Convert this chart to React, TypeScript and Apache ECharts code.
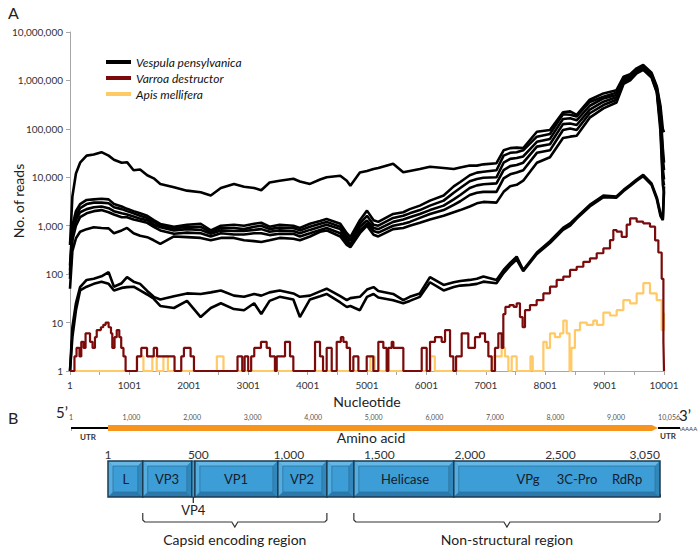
import { useEffect, useRef } from 'react';
import * as echarts from 'echarts';

// ---------- Panel A data ----------
const NT = [
  0, 40, 100, 170, 280, 400, 530, 650, 740, 870,
  960, 1070, 1180, 1300, 1410, 1520, 1750, 1970, 2200, 2370,
  2540, 2760, 2930, 3100, 3220, 3360, 3530, 3760, 3870, 4040,
  4210, 4320, 4550, 4660, 4720, 4880, 5000, 5110, 5190, 5440,
  5610, 5720, 5890, 6060, 6290, 6460, 6570, 6730, 6850, 6960,
  7180, 7300, 7410, 7520, 7630, 7860, 8080, 8300, 8420, 8530,
  8750, 8980, 9200, 9320, 9430, 9540, 9650, 9790, 9880, 9940,
  9980, 10000,
];

const V_TOP = [
  400, 4000, 12000, 20000, 28000, 29500, 33000, 28000, 23000, 20000,
  20500, 14000, 14500, 11000, 9500, 7300, 6200, 5300, 4900, 4200,
  6000, 7300, 6400, 6000, 5400, 7800, 8500, 9300, 8200, 7300,
  9000, 10000, 10800, 8500, 6700, 12500, 13500, 14800, 15500, 19000,
  12700, 13500, 14800, 16500, 15500, 14800, 16000, 17500, 17400, 18500,
  19500, 36000, 40000, 41000, 40000, 87000, 95000, 220000, 230000, 195000,
  400000, 540000, 630000, 1200000, 1350000, 1780000, 2100000, 1450000, 750000, 300000,
  100000, 85000,
];
const V_M1 = [
  150, 1000, 2000, 2800, 3400, 3500, 3600, 3500, 2800, 2500,
  2230, 2000, 1800, 1600, 1300, 1090, 950, 1050, 1100, 800,
  1000, 1050, 1000, 1100, 1150, 950, 1050, 1000, 900, 1100,
  1250, 1380, 1100, 700, 580, 1300, 2050, 1300, 1200, 1750,
  1900, 2200, 2600, 3300, 4200, 6500, 8000, 11000, 12500, 13000,
  14000, 28000, 32000, 33000, 36000, 69000, 78000, 200000, 195000, 180000,
  360000, 460000, 560000, 1100000, 1250000, 1700000, 2000000, 1350000, 700000, 250000,
  40000, 20000,
];
const V_M2 = [
  120, 800, 1600, 2300, 2800, 3000, 3000, 2900, 2400, 2200,
  2000, 1800, 1600, 1450, 1200, 1000, 880, 950, 950, 740,
  900, 900, 850, 950, 1000, 850, 920, 900, 800, 950,
  1100, 1200, 950, 600, 500, 1100, 1600, 1050, 1000, 1450,
  1600, 1800, 2100, 2600, 3300, 4800, 6000, 8300, 9200, 9800,
  10000, 20000, 24000, 25000, 27000, 54000, 62000, 160000, 165000, 150000,
  300000, 425000, 500000, 1000000, 1150000, 1600000, 1900000, 1300000, 650000, 200000,
  25000, 14000,
];
const V_M3 = [
  100, 600, 1300, 1900, 2200, 2400, 2500, 2300, 2000, 1800,
  1700, 1550, 1400, 1300, 1050, 930, 800, 850, 820, 680,
  800, 780, 780, 820, 850, 750, 800, 780, 700, 820,
  950, 1050, 850, 520, 420, 950, 1280, 900, 850, 1200,
  1350, 1500, 1750, 2100, 2600, 3500, 4300, 6000, 6800, 7200,
  7500, 14000, 17000, 18000, 20000, 43000, 48000, 125000, 129000, 120000,
  250000, 363000, 450000, 950000, 1100000, 1550000, 1800000, 1250000, 620000, 160000,
  15000, 9000,
];
const V_M4 = [
  80, 500, 1000, 1500, 1800, 2000, 2100, 1900, 1700, 1500,
  1500, 1350, 1250, 1150, 950, 800, 680, 720, 700, 600,
  700, 660, 660, 700, 700, 640, 680, 680, 600, 700,
  820, 900, 700, 450, 380, 800, 1100, 780, 720, 1000,
  1100, 1200, 1450, 1750, 2100, 2700, 3200, 4300, 4800, 5000,
  5000, 9500, 11500, 12500, 14000, 32000, 36000, 95000, 102000, 95000,
  210000, 310000, 400000, 900000, 1050000, 1450000, 1700000, 1200000, 580000, 120000,
  10000, 6800,
];
const V_M5 = [
  50, 300, 550, 750, 850, 930, 900, 880, 700, 800,
  900, 700, 620, 580, 500, 420, 600, 580, 560, 500,
  560, 560, 500, 480, 460, 500, 560, 540, 500, 600,
  750, 800, 600, 400, 360, 700, 1000, 650, 600, 850,
  900, 1000, 1150, 1350, 1600, 1900, 2100, 2500, 2900, 3100,
  3000, 5000, 6500, 7000, 8500, 20000, 26000, 65000, 69000, 72000,
  170000, 264000, 350000, 850000, 1000000, 1400000, 1650000, 1150000, 560000, 90000,
  7000, 5000,
];
const V_L1 = [
  1, 8, 25, 54, 76, 80, 90, 110, 55, 65,
  87, 70, 63, 45, 34, 30, 35, 40, 39, 42,
  46, 36, 34, 39, 36, 42, 46, 40, 34, 36,
  44, 50, 35, 29, 32, 34, 48, 54, 45, 39,
  29, 34, 40, 87, 60, 68, 72, 76, 80, 89,
  76, 122, 170, 230, 122, 280, 480, 900, 1120, 1500,
  2700, 4200, 4000, 5500, 7000, 9000, 11200, 7500, 3800, 1800,
  1400, 6500,
];
const V_L2 = [
  1, 5, 18, 46, 55, 63, 70, 63, 46, 52,
  54, 55, 46, 38, 31, 22, 20, 28, 13, 20,
  25, 19, 18, 25, 15, 28, 34, 30, 13, 30,
  35, 39, 26, 21, 22, 18, 34, 39, 33, 29,
  25, 28, 34, 68, 46, 54, 58, 60, 63, 70,
  65, 105, 150, 200, 115, 260, 440, 820, 1000, 1400,
  2500, 3900, 3800, 5200, 6600, 8500, 10500, 7000, 3500, 1600,
  1300, 5000,
];

const RED = [
  [0, 1], [75, 2], [110, 3], [160, 2], [190, 4], [230, 3], [262, 6], [337, 4], [380, 3], [420, 5],
  [450, 7], [520, 8], [560, 9], [600, 10], [650, 8], [690, 6], [712, 3], [750, 5], [787, 7], [830, 5],
  [862, 3], [900, 2], [936, 1], [1128, 2], [1200, 3], [1297, 2], [1410, 3], [1466, 2], [1760, 1], [1873, 2],
  [1918, 3], [2030, 2], [2087, 1], [2820, 2], [2900, 1], [2940, 2], [3000, 1], [3050, 2], [3102, 3], [3215, 4],
  [3311, 3], [3367, 2], [3450, 1], [3480, 2], [3620, 4], [3704, 2], [3760, 1], [4125, 4], [4209, 2], [4260, 1],
  [4321, 3], [4406, 1], [4490, 4], [4560, 5], [4602, 4], [4658, 3], [4714, 1], [4770, 2], [4855, 1], [4995, 2],
  [5107, 1], [5191, 4], [5275, 3], [5331, 1], [5360, 3], [5416, 4], [5444, 3], [5612, 1], [5921, 3], [6005, 1],
  [6061, 4], [6145, 5], [6257, 4], [6314, 7], [6398, 2], [6454, 1], [6500, 2], [6594, 6], [6706, 3], [6818, 5],
  [6902, 6], [6987, 4], [7043, 2], [7099, 1], [7155, 3], [7211, 6], [7267, 3], [7295, 15], [7330, 21], [7400, 23],
  [7470, 21], [7520, 25], [7575, 13], [7620, 8], [7660, 18], [7744, 23], [7856, 29], [7969, 40], [8081, 55], [8193, 76],
  [8305, 89], [8418, 122], [8530, 142], [8642, 180], [8754, 212], [8867, 270], [8979, 340], [9091, 505], [9147, 815], [9203, 755],
  [9288, 590], [9372, 1050], [9430, 1420], [9540, 1210], [9650, 1120], [9764, 955], [9850, 500], [9905, 280], [9961, 80], [9990, 4],
  [10000, 1],
];

const YELLOW = [
  [0, 1], [1124, 2], [1236, 1], [1386, 2], [1460, 1], [1573, 2], [1648, 1], [2472, 2], [2584, 1], [5056, 2],
  [5131, 1], [6067, 2], [6142, 1], [7116, 2], [7267, 3], [7323, 2], [7380, 1], [7436, 2], [7520, 1], [7752, 2],
  [7790, 1], [7969, 4], [8025, 3], [8081, 6], [8165, 5], [8250, 6], [8305, 11], [8362, 6], [8410, 1], [8440, 3],
  [8500, 7], [8586, 10], [8700, 9], [8810, 11], [8870, 9], [8979, 16], [9091, 14], [9203, 18], [9316, 29], [9428, 25],
  [9540, 40], [9652, 65], [9764, 40], [9877, 29], [9961, 7], [10000, 16],
];

const SERIES_NAMES = ['Vespula pensylvanica', 'Varroa destructor', 'Apis mellifera'];

// ---------- Panel B data ----------
const GENOME_TICKS = [1, 1000, 2000, 3000, 4000, 5000, 6000, 7000, 8000, 9000, 10056];
const GENOME_PARTS = [1, 612, 9692, 10056]; // 5'UTR start, ORF start, ORF end, 3' end
const AA_TICKS = [1, 500, 1000, 1500, 2000, 2500, 3050];
const DOMAIN_START = [1, 193, 464, 481, 939, 1210, 1359, 1911];
const DOMAIN_END = [193, 464, 481, 939, 1210, 1359, 1911, 3050];
const LABEL_AA = [100, 327, 708, 1073, 1642, 2321, 2592, 2868];
const LABEL_TEXT = ['L', 'VP3', 'VP1', 'VP2', 'Helicase', 'VPg', '3C-Pro', 'RdRp'];
const CALLOUT_AA = [472];
const CALLOUT_TEXT = ['VP4'];
const REGION_START = [193, 1359];
const REGION_END = [1210, 3050];
const REGION_TEXT = ['Capsid encoding region', 'Non-structural region'];

const FONT = 'Lato';
const fmt = (v: number) => String(Math.round(v)).replace(/\B(?=(\d{3})+(?!\d))/g, ',');

export default function App() {
  const ref = useRef<HTMLDivElement>(null);
  useEffect(() => {
    const chart = echarts.init(ref.current!, null, { renderer: 'svg' });

    const blackSets = [V_TOP, V_M1, V_M2, V_M3, V_M4, V_M5, V_L1, V_L2];
    const blackSeries = blackSets.map((arr) => ({
      type: 'line',
      name: SERIES_NAMES[0],
      xAxisIndex: 0,
      yAxisIndex: 0,
      data: NT.map((n, i) => [n, arr[i]]),
      showSymbol: false,
      symbol: 'none',
      lineStyle: { color: '#000', width: 2.6 },
      itemStyle: { color: '#000' },
      clip: false,
    }));

    const option: any = {
      animation: false,
      backgroundColor: '#fff',
      textStyle: { fontFamily: FONT },
      legend: {
        left: 106,
        top: 55,
        orient: 'vertical',
        icon: 'rect',
        itemWidth: 25,
        itemHeight: 4,
        itemGap: 2,
        padding: 0,
        data: SERIES_NAMES,
        textStyle: { fontStyle: 'italic', fontSize: 12, fontFamily: FONT, color: '#111', lineHeight: 14 },
      },
      grid: [
        { left: 70, right: 36, top: 32, bottom: 176, outerBoundsMode: 'none', containLabel: false },
        { left: 71, width: 609, top: 425, height: 6, outerBoundsMode: 'none', containLabel: false },
        { left: 108, width: 552, top: 461, height: 36, outerBoundsMode: 'none', containLabel: false },
      ],
      xAxis: [
        {
          type: 'value',
          gridIndex: 0,
          min: 0,
          max: 10000,
          interval: 500,
          axisLine: { show: true, lineStyle: { color: '#A6A6A6', width: 1 } },
          axisTick: { show: true, length: 4, lineStyle: { color: '#A6A6A6' } },
          axisLabel: {
            interval: 0,
            formatter: (v: number) => (v % 1000 === 0 ? String(v + 1) : ''),
            fontSize: 10,
            color: '#333',
            margin: 9,
            fontFamily: FONT,
            showMaxLabel: true,
          },
          splitLine: { show: false },
          name: 'Nucleotide',
          nameLocation: 'middle',
          nameGap: 13,
          nameTextStyle: { fontSize: 14, color: '#222', fontFamily: FONT },
        },
        {
          type: 'value',
          gridIndex: 1,
          min: 1,
          max: 10056,
          position: 'top',
          axisLine: { show: false },
          splitLine: { show: false },
          axisTick: { show: true, customValues: GENOME_TICKS, length: 4, lineStyle: { color: '#999', type: 'dashed', width: 0.8 } },
          axisLabel: { customValues: GENOME_TICKS, formatter: fmt, fontSize: 7, color: '#555', margin: 5, alignMaxLabel: 'right', fontFamily: FONT },
        },
        {
          type: 'value',
          gridIndex: 2,
          min: 1,
          max: 3050,
          position: 'top',
          axisLine: { show: false },
          splitLine: { show: false },
          axisTick: { show: true, customValues: AA_TICKS, length: 3, lineStyle: { color: '#444' } },
          axisLabel: { customValues: AA_TICKS, formatter: fmt, fontSize: 12, color: '#333', margin: 1, alignMaxLabel: 'right', fontFamily: FONT },
        },
      ],
      yAxis: [
        {
          type: 'log',
          gridIndex: 0,
          logBase: 10,
          min: 1,
          max: 10000000,
          splitNumber: 7,
          axisLine: { show: true, lineStyle: { color: '#A6A6A6', width: 1 } },
          axisTick: { show: true, length: 4, lineStyle: { color: '#A6A6A6' } },
          axisLabel: { formatter: (v: number) => fmt(v), fontSize: 10, color: '#333', margin: 7, fontFamily: FONT },
          splitLine: { show: false },
          minorTick: { show: false },
        },
        { type: 'value', gridIndex: 1, min: 0, max: 1, show: false },
        { type: 'value', gridIndex: 2, min: 0, max: 1, show: false },
      ],
      series: [
        ...blackSeries,
        {
          type: 'line',
          name: SERIES_NAMES[2],
          step: 'end',
          data: YELLOW,
          showSymbol: false,
          symbol: 'none',
          lineStyle: { color: '#FFC966', width: 2.2 },
          itemStyle: { color: '#FFC966' },
          clip: false,
        },
        {
          type: 'line',
          name: SERIES_NAMES[1],
          step: 'end',
          data: RED,
          showSymbol: false,
          symbol: 'none',
          lineStyle: { color: '#7B0A0A', width: 2.2 },
          itemStyle: { color: '#7B0A0A' },
          clip: false,
        },
        // genome bar
        {
          type: 'custom',
          xAxisIndex: 1,
          yAxisIndex: 1,
          clip: false,
          silent: true,
          data: [GENOME_PARTS],
          renderItem: (params: any, api: any) => {
            const p0 = api.coord([api.value(0), 0.5]);
            const p1 = api.coord([api.value(1), 0.5]);
            const p2 = api.coord([api.value(2), 0.5]);
            const p3 = api.coord([api.value(3), 0.5]);
            const y = p0[1];
            return {
              type: 'group',
              children: [
                { type: 'line', shape: { x1: p0[0], y1: y, x2: p1[0], y2: y }, style: { stroke: '#000', lineWidth: 2 } },
                {
                  type: 'polygon',
                  shape: { points: [[p1[0], y - 3], [p2[0] - 6, y - 3], [p2[0], y], [p2[0] - 6, y + 3], [p1[0], y + 3]] },
                  style: { fill: '#F7941D' },
                },
                { type: 'line', shape: { x1: p2[0], y1: y, x2: p3[0], y2: y }, style: { stroke: '#000', lineWidth: 2 } },
              ],
            };
          },
        },
        // protein domains
        {
          type: 'custom',
          xAxisIndex: 2,
          yAxisIndex: 2,
          clip: false,
          silent: true,
          data: DOMAIN_START.map((s, i) => [s, DOMAIN_END[i]]),
          renderItem: (params: any, api: any) => {
            const a = api.coord([api.value(0), 1]);
            const b = api.coord([api.value(1), 0]);
            const x = a[0], y = a[1], w = b[0] - a[0], h = b[1] - a[1];
            const base = '#3D9DD6';
            if (w < 8) {
              return { type: 'rect', shape: { x, y, width: w, height: h }, style: { fill: base, stroke: '#1D3B50', lineWidth: 1.2 } };
            }
            const e = 5;
            return {
              type: 'group',
              children: [
                { type: 'rect', shape: { x, y, width: w, height: h }, style: { fill: base } },
                { type: 'polygon', shape: { points: [[x, y], [x + w, y], [x + w - e, y + e], [x + e, y + e]] }, style: { fill: '#66B7E5' } },
                { type: 'polygon', shape: { points: [[x, y], [x + e, y + e], [x + e, y + h - e], [x, y + h]] }, style: { fill: '#54ACDF' } },
                { type: 'polygon', shape: { points: [[x, y + h], [x + e, y + h - e], [x + w - e, y + h - e], [x + w, y + h]] }, style: { fill: '#2B79AC' } },
                { type: 'polygon', shape: { points: [[x + w, y], [x + w, y + h], [x + w - e, y + h - e], [x + w - e, y + e]] }, style: { fill: '#3186BA' } },
                { type: 'rect', shape: { x: x + e, y: y + e, width: w - 2 * e, height: h - 2 * e }, style: { fill: base, stroke: '#2C74A0', lineWidth: 0.8 } },
                { type: 'rect', shape: { x, y, width: w, height: h }, style: { fill: 'none', stroke: '#1D3B50', lineWidth: 1.5 } },
              ],
            };
          },
        },
        // domain labels
        {
          type: 'custom',
          xAxisIndex: 2,
          yAxisIndex: 2,
          clip: false,
          silent: true,
          z: 5,
          data: LABEL_AA.map((v) => [v, 0.5]),
          renderItem: (params: any, api: any) => {
            const p = api.coord([api.value(0), 0.5]);
            return {
              type: 'text',
              x: p[0],
              y: p[1],
              style: { text: LABEL_TEXT[params.dataIndex], align: 'center', verticalAlign: 'middle', fontSize: 13, fontFamily: FONT, fill: '#14202a' },
            };
          },
        },
        // VP4 callout
        {
          type: 'custom',
          xAxisIndex: 2,
          yAxisIndex: 2,
          clip: false,
          silent: true,
          data: CALLOUT_AA.map((v) => [v, 0]),
          renderItem: (params: any, api: any) => {
            const p = api.coord([api.value(0), 0]);
            return {
              type: 'group',
              children: [
                { type: 'line', shape: { x1: p[0], y1: p[1], x2: p[0], y2: p[1] + 6 }, style: { stroke: '#222', lineWidth: 1.2 } },
                {
                  type: 'text',
                  x: p[0],
                  y: p[1] + 13,
                  style: { text: CALLOUT_TEXT[params.dataIndex], align: 'center', verticalAlign: 'middle', fontSize: 13, fontFamily: FONT, fill: '#222' },
                },
              ],
            };
          },
        },
        // region braces
        {
          type: 'custom',
          xAxisIndex: 2,
          yAxisIndex: 2,
          clip: false,
          silent: true,
          data: REGION_START.map((s, i) => [s, REGION_END[i]]),
          renderItem: (params: any, api: any) => {
            const a = api.coord([api.value(0), 0]);
            const b = api.coord([api.value(1), 0]);
            const x0 = a[0], x1 = b[0], xm = (x0 + x1) / 2;
            const yt = a[1] + 16, yb = a[1] + 25;
            return {
              type: 'group',
              children: [
                {
                  type: 'polyline',
                  shape: {
                    points: [[x0, yt], [x0, yb - 2], [x0 + 2, yb], [xm - 3, yb], [xm, yb + 5], [xm + 3, yb], [x1 - 2, yb], [x1, yb - 2], [x1, yt]],
                  },
                  style: { stroke: '#333', lineWidth: 1.2, fill: 'none' },
                },
                {
                  type: 'text',
                  x: xm,
                  y: a[1] + 42,
                  style: { text: REGION_TEXT[params.dataIndex], align: 'center', verticalAlign: 'middle', fontSize: 14, fontFamily: FONT, fill: '#222' },
                },
              ],
            };
          },
        },
      ],
      graphic: [
        { type: 'text', x: 8, y: 12, style: { text: 'A', fontSize: 16, fontFamily: FONT, fill: '#222', verticalAlign: 'middle' } },
        {
          type: 'text',
          x: 18,
          y: 201,
          rotation: Math.PI / 2,
          style: { text: 'No. of reads', fontSize: 14, fontFamily: FONT, fill: '#222', align: 'center', verticalAlign: 'middle' },
        },
        { type: 'text', x: 8, y: 417, style: { text: 'B', fontSize: 16, fontFamily: FONT, fill: '#222', verticalAlign: 'middle' } },
        { type: 'text', x: 62, y: 412, style: { text: '5\u2019', fontSize: 15, fontFamily: FONT, fill: '#222', align: 'center', verticalAlign: 'middle' } },
        { type: 'text', x: 685, y: 415, style: { text: '3\u2019', fontSize: 15, fontFamily: FONT, fill: '#222', align: 'center', verticalAlign: 'middle' } },
        { type: 'text', x: 88, y: 437, style: { text: 'UTR', fontSize: 8, fontWeight: 'bold', fontFamily: FONT, fill: '#333', align: 'center', verticalAlign: 'middle' } },
        { type: 'text', x: 668, y: 436, style: { text: 'UTR', fontSize: 8, fontWeight: 'bold', fontFamily: FONT, fill: '#333', align: 'center', verticalAlign: 'middle' } },
        { type: 'text', x: 681, y: 428, style: { text: 'AAAA', fontSize: 6, fontFamily: FONT, fill: '#333', verticalAlign: 'middle' } },
        { type: 'text', x: 371, y: 437, style: { text: 'Amino acid', fontSize: 14, fontFamily: FONT, fill: '#222', align: 'center', verticalAlign: 'middle' } },
      ],
    };

    chart.setOption(option);
    return () => chart.dispose();
  }, []);

  return (
    <div
      ref={ref}
      style={{ position: 'fixed', left: 0, top: 0, width: 700, height: 547, background: '#fff' }}
    />
  );
}
